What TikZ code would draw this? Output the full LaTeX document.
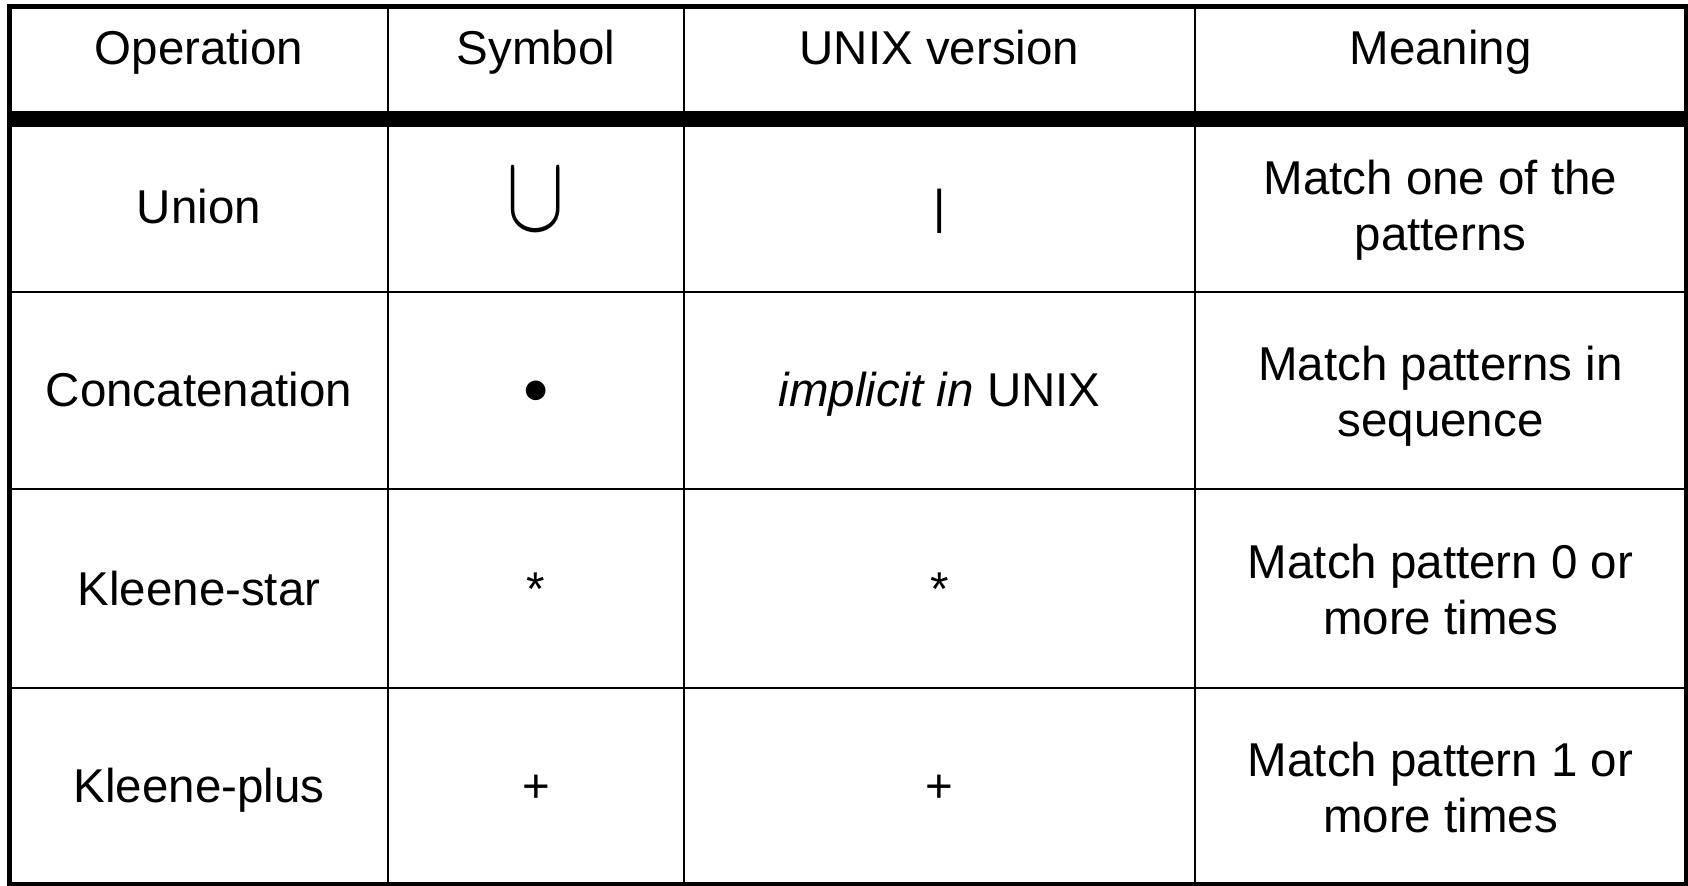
\documentclass[tikz,border=0pt]{standalone}
\usepackage{fontspec}
\setmainfont{Liberation Sans}
\usepackage{graphicx}
\usetikzlibrary{positioning}

\begin{document}
\begin{tikzpicture}[x=0.01cm, y=-0.01cm,
    celltext/.style={anchor=base, inner sep=0pt, font=\fontsize{13.5}{15.9}\selectfont},
    meantext/.style={celltext, anchor=north, align=center},
    cupsym/.style={anchor=base, inner sep=0pt, font=\fontsize{24}{28}\selectfont},
    gridline/.style={line width=0.65pt},
    framebox/.style={line width=1.42pt},
    headline/.style={line width=4.55pt},
  ]
  \useasboundingbox (0,0) rectangle (1688,886);

  % === Grid ===
  \draw[gridline] (388,7) -- (388,884);
  \draw[gridline] (684,7) -- (684,884);
  \draw[gridline] (1195,7) -- (1195,884);
  \draw[gridline] (10,292) -- (1686,292);
  \draw[gridline] (10,489) -- (1686,489);
  \draw[gridline] (10,688) -- (1686,688);
  \draw[headline] (10,119) -- (1686,119);
  \draw[framebox] (9.5,6.5) rectangle (1686.5,884.5);

  % === Row: header ===
  \node[celltext] (hop) at (199,65) {Operation};
  \node[celltext] (hsym) at (536,65) {Symbol};
  \node[celltext] (hunix) at (939.5,65) {UNIX version};
  \node[celltext] (hmean) at (1440.5,65) {Meaning};

  % === Row: union ===
  \node[celltext] (union) at (199,224) {Union};
  \node[cupsym] (cup) at (536,231) {\scalebox{1}[1.25]{$\cup$}};
  \node[celltext] (bar) at (939.5,224) {|};
  \node[meantext] (munion) at (1440.5,159) {Match one of the\\patterns};

  % === Row: concatenation ===
  \node[celltext] (concat) at (199,407) {Concatenation};
  \node[celltext] (dot) at (536,404) {$\bullet$};
  \node[celltext] (implicit) at (939.5,407) {\textit{implicit in} UNIX};
  \node[meantext] (mconcat) at (1440.5,345) {Match patterns in\\sequence};

  % === Row: Kleene-star ===
  \node[celltext] (kstar) at (199,606) {Kleene-star};
  \node[celltext] (star) at (536,606) {*};
  \node[celltext] (ustar) at (939.5,606) {*};
  \node[meantext] (mstar) at (1440.5,543) {Match pattern 0 or\\more times};

  % === Row: Kleene-plus ===
  \node[celltext] (kplus) at (199,803) {Kleene-plus};
  \node[celltext] (plus) at (536,803) {+};
  \node[celltext] (uplus) at (939.5,803) {+};
  \node[meantext] (mplus) at (1440.5,741) {Match pattern 1 or\\more times};

\end{tikzpicture}
\end{document}
